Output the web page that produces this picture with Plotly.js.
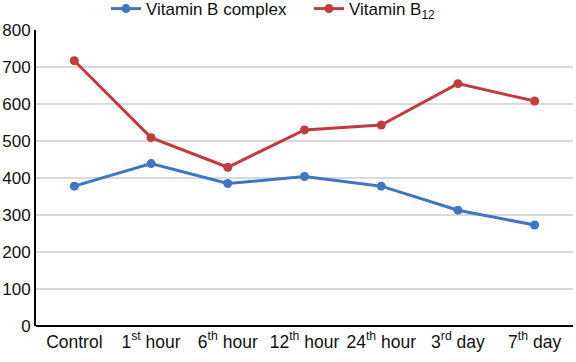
<!DOCTYPE html>
<html><head><meta charset="utf-8">
<script src="https://cdn.plot.ly/plotly-3.0.1.min.js"></script>
<style>html,body{margin:0;padding:0;background:#fff}#chart{width:576px;height:362px}</style>
</head><body><div id="chart"></div>
<script>
const categories = ["Control", "1<sup>st</sup> hour", "6<sup>th</sup> hour", "12<sup>th</sup> hour", "24<sup>th</sup> hour", "3<sup>rd</sup> day", "7<sup>th</sup> day"];
const vitaminBComplex = [378, 439, 385, 404, 378, 313, 273];
const vitaminB12 = [717, 509, 429, 530, 543, 655, 608];
const seriesNames = ["Vitamin B complex", "Vitamin B<sub>12</sub>"];
const yTicks = [0, 100, 200, 300, 400, 500, 600, 700, 800];

const font = {family: "Liberation Sans, Arial, sans-serif", size: 17, color: "#111"};
const traces = [
  {x: categories, y: vitaminBComplex, name: seriesNames[0], type: "scatter", mode: "lines+markers",
   line: {color: "#3f76c2", width: 3}, marker: {color: "#3f76c2", size: 9}},
  {x: categories, y: vitaminB12, name: seriesNames[1], type: "scatter", mode: "lines+markers",
   line: {color: "#c03d3d", width: 3}, marker: {color: "#c03d3d", size: 9}}
];
const layout = {
  width: 576, height: 362,
  margin: {l: 36, r: 3, t: 30, b: 36, autoexpand: false},
  paper_bgcolor: "#fff", plot_bgcolor: "#fff",
  font: font,
  showlegend: true,
  legend: {orientation: "h", xref: "container", yref: "container", x: 0.184, xanchor: "left", y: 0.975, yanchor: "middle",
           entrywidth: 158, entrywidthmode: "pixels",
           font: {size: 17, family: font.family, color: "#111"}, itemwidth: 30, tracegroupgap: 0, bgcolor: "rgba(0,0,0,0)"},
  xaxis: {type: "category", categoryarray: categories, range: [-0.5, 6.5], showgrid: false, showline: false, zeroline: false, ticks: "", tickfont: {size: 17.5}, ticklabelstandoff: 3},
  yaxis: {range: [0, 800], tickvals: yTicks, showgrid: true, gridcolor: "#d9d9d9", gridwidth: 1.5, showline: true, linecolor: "#000", linewidth: 2, zeroline: true, zerolinecolor: "#000", zerolinewidth: 2, ticks: "", tickfont: {size: 17}}
};
Plotly.newPlot("chart", traces, layout, {displayModeBar: false, staticPlot: true});
</script></body></html>
